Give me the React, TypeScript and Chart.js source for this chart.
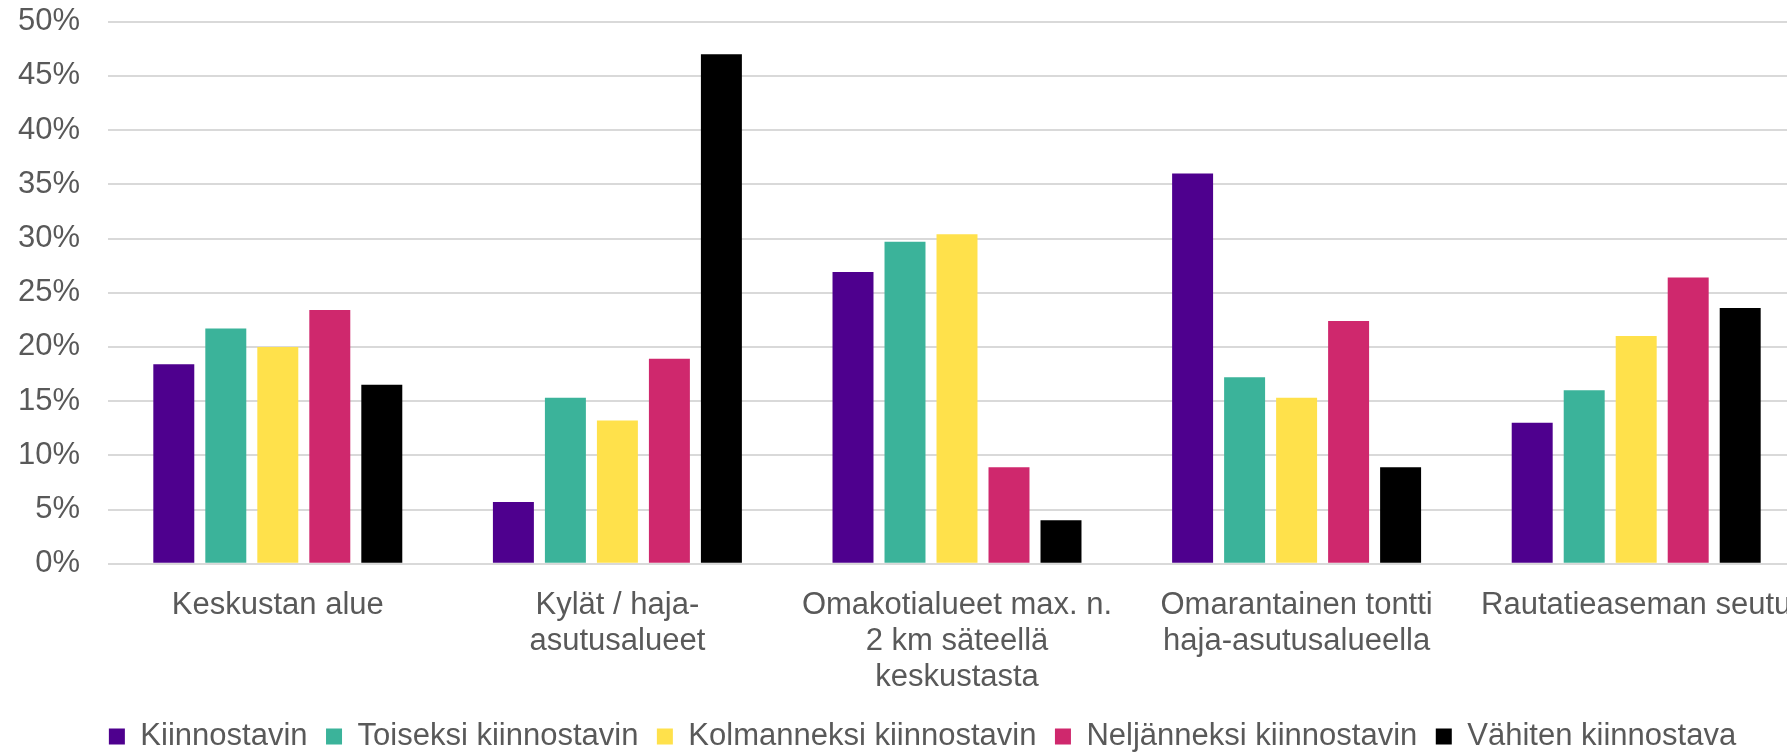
import React, { useEffect, useRef } from "react";
import { Chart, registerables } from "chart.js";

Chart.register(...registerables);

const categories: string[][] = [
  ["Keskustan alue"],
  ["Kylät / haja-", "asutusalueet"],
  ["Omakotialueet max. n.", "2 km säteellä", "keskustasta"],
  ["Omarantainen tontti", "haja-asutusalueella"],
  ["Rautatieaseman seutu"],
];

const seriesNames = [
  "Kiinnostavin",
  "Toiseksi kiinnostavin",
  "Kolmanneksi kiinnostavin",
  "Neljänneksi kiinnostavin",
  "Vähiten kiinnostava",
];

const kiinnostavin = [18.4, 5.7, 26.9, 36.0, 13.0];
const toiseksi = [21.7, 15.3, 29.7, 17.2, 16.0];
const kolmanneksi = [20.0, 13.2, 30.4, 15.3, 21.0];
const neljanneksi = [23.4, 18.9, 8.9, 22.4, 26.4];
const vahiten = [16.5, 47.0, 4.0, 8.9, 23.6];

const seriesColors = ["#4E008E", "#3BB39A", "#FFE14B", "#CF286D", "#000000"];

const yTicks = [0, 5, 10, 15, 20, 25, 30, 35, 40, 45, 50];

const FONT = "'Liberation Sans', Arial, sans-serif";
const TEXT = "#595959";

const legendShift = {
  id: "legendShift",
  afterLayout(chart: any) {
    const lg = chart.legend;
    if (lg) {
      lg.left += 10.5;
      lg.right += 10.5;
    }
  },
};

export default function App() {
  const ref = useRef<HTMLCanvasElement>(null);

  useEffect(() => {
    if (!ref.current) return;
    const values = [kiinnostavin, toiseksi, kolmanneksi, neljanneksi, vahiten];
    const chart = new Chart(ref.current, {
      type: "bar",
      data: {
        labels: categories,
        datasets: values.map((v, i) => ({
          label: seriesNames[i],
          data: v,
          backgroundColor: seriesColors[i],
          borderWidth: 0,
          categoryPercentage: 0.7656,
          barPercentage: 0.788,
        })),
      },
      plugins: [legendShift],
      options: {
        responsive: false,
        devicePixelRatio: 1,
        animation: false,
        layout: { padding: { left: 18, right: 24, top: 21.7, bottom: 0 } },
        plugins: {
          tooltip: { enabled: false },
          legend: {
            position: "bottom",
            labels: {
              boxWidth: 16,
              boxHeight: 16,
              padding: 18.5,
              color: TEXT,
              font: { family: FONT, size: 31 },
            },
          },
        },
        scales: {
          x: {
            grid: { display: false },
            border: { display: false },
            ticks: {
              color: TEXT,
              font: { family: FONT, size: 31, lineHeight: 1.16 },
              padding: 15.6,
              maxRotation: 0,
              minRotation: 0,
              autoSkip: false,
            },
            afterFit: (s: any) => {
              s.height = 138.8;
              s.paddingLeft = 0;
              s.paddingRight = 0;
            },
          },
          y: {
            min: 0,
            max: 50,
            afterBuildTicks: (s: any) => {
              s.ticks = yTicks.map((v) => ({ value: v }));
            },
            grid: { color: "#D9D9D9", lineWidth: 2, drawTicks: false },
            border: { display: false },
            ticks: {
              color: TEXT,
              font: { family: FONT, size: 31, lineHeight: 0.94 },
              padding: 28,
              callback: (v: any) => `${v}%`,
            },
            afterFit: (s: any) => {
              s.width = 90;
              s.paddingTop = 0;
              s.paddingBottom = 0;
            },
          },
        },
      },
    });
    return () => chart.destroy();
  }, []);

  return (
    <div
      style={{
        position: "absolute",
        left: 0,
        top: 0,
        width: 1787,
        height: 752,
        overflow: "hidden",
        background: "#ffffff",
      }}
    >
      <canvas
        ref={ref}
        width={1830}
        height={762}
        style={{ display: "block", width: 1830, height: 762 }}
      />
    </div>
  );
}
